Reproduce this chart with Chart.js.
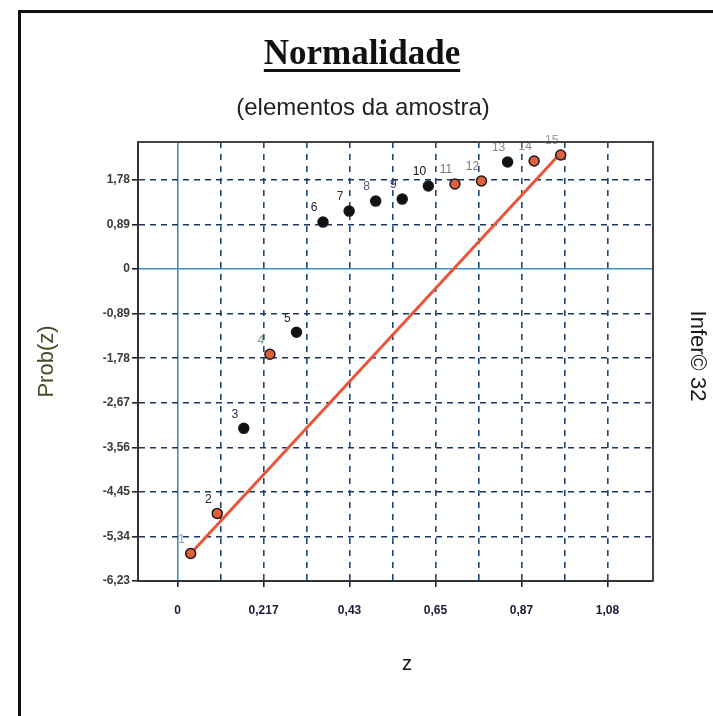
<!DOCTYPE html>
<html>
<head>
<meta charset="utf-8">
<script src="https://cdn.jsdelivr.net/npm/chart.js@4.4.1/dist/chart.umd.min.js"></script>
<style>
  html, body { margin: 0; padding: 0; background: #fff; }
  #wrap { position: relative; width: 713px; height: 716px; }
  #frame {
    position: absolute; left: 18px; top: 10px; right: -4px; bottom: -4px;
    border-left: 3px solid #111; border-top: 3px solid #111;
  }
  canvas { position: absolute; left: 0; top: 0; }
</style>
</head>
<body>
<div id="wrap">
  <div id="frame"></div>
  <canvas id="normal" width="713" height="716"></canvas>
</div>
<script>
// valores
const zValues = [0.033, 0.1, 0.167, 0.233, 0.3, 0.367, 0.433, 0.5, 0.567, 0.633, 0.7, 0.767, 0.833, 0.9, 0.967];
const probValues = [-5.68, -4.88, -3.18, -1.70, -1.26, 0.94, 1.16, 1.36, 1.40, 1.66, 1.70, 1.76, 2.14, 2.16, 2.28];
const pointLabels = ["1", "2", "3", "4", "5", "6", "7", "8", "9", "10", "11", "12", "13", "14", "15"];

// reta de referência
const lineZ = [0.033, 0.967];
const lineProb = [-5.68, 2.32];

// ticks dos eixos
const xTickValues = [0, 0.1085, 0.217, 0.3255, 0.434, 0.5425, 0.651, 0.7595, 0.868, 0.9765, 1.085];
const xTickLabels = ["0", "", "0,217", "", "0,43", "", "0,65", "", "0,87", "", "1,08"];
const yTickValues = [1.78, 0.89, 0, -0.89, -1.78, -2.67, -3.56, -4.45, -5.34, -6.23];
const yTickLabels = ["1,78", "0,89", "0", "-0,89", "-1,78", "-2,67", "-3,56", "-4,45", "-5,34", "-6,23"];

// cores dos pontos (laranja / preto)
const orange = "#e0603a";
const black = "#111111";
const pointColors = [orange, orange, black, orange, black, black, black, black, black, black, orange, orange, black, orange, orange];
const labelColors = ["#999999", "#222233", "#2a3550", "#8a9a80", "#222233", "#222233", "#4a2a30", "#4a5a70", "#2a3550", "#111111", "#777777", "#777777", "#888888", "#888888", "#999999"];

const FONT = "'Liberation Sans', Arial, sans-serif";

// moldura superior/direita da área do gráfico + textos extras
const decorPlugin = {
  id: "decor",
  afterDraw: (chart) => {
    const ctx = chart.ctx;
    const { left, right, top, bottom } = chart.chartArea;
    ctx.save();
    ctx.strokeStyle = "#444";
    ctx.lineWidth = 2;
    ctx.beginPath();
    ctx.moveTo(left, top);
    ctx.lineTo(right, top);
    ctx.lineTo(right, bottom);
    ctx.stroke();

    // título sublinhado
    ctx.fillStyle = "#111";
    ctx.textAlign = "center";
    ctx.textBaseline = "alphabetic";
    ctx.font = "bold 35px 'Liberation Serif', 'Times New Roman', serif";
    const title = "Normalidade";
    ctx.fillText(title, 362, 64);
    const w = ctx.measureText(title).width;
    ctx.fillRect(362 - w / 2, 69, w, 3);

    ctx.font = "24px " + FONT;
    ctx.fillStyle = "#222";
    ctx.textBaseline = "middle";
    ctx.fillText("(elementos da amostra)", 363, 108);

    // eixo x: rótulo "z" (um pouco à direita do centro, como no original)
    ctx.font = "20px " + FONT;
    ctx.fillStyle = "#111";
    ctx.fillText("z", 407, 664);

    // texto vertical à direita
    ctx.translate(697, 356);
    ctx.rotate(Math.PI / 2);
    ctx.font = "22px " + FONT;
    ctx.fillStyle = "#1a1a1a";
    ctx.fillText("Infer© 32", 0, 0);
    ctx.restore();
  },
  afterDatasetsDraw: (chart) => {
    const ctx = chart.ctx;
    const meta = chart.getDatasetMeta(0);
    ctx.save();
    ctx.font = "12px " + FONT;
    ctx.textAlign = "center";
    ctx.textBaseline = "middle";
    meta.data.forEach((pt, i) => {
      ctx.fillStyle = labelColors[i];
      ctx.fillText(pointLabels[i], pt.x - 9, pt.y - 14);
    });
    ctx.restore();
  },
};

const zeroBlue = "#3f8fc4";

new Chart(document.getElementById("normal"), {
  type: "scatter",
  data: {
    datasets: [
      {
        label: "amostra",
        data: zValues.map((z, i) => ({ x: z, y: probValues[i] })),
        backgroundColor: pointColors,
        borderColor: "#1a1a1a",
        borderWidth: 1.5,
        pointRadius: 5,
        order: 0,
      },
      {
        label: "reta",
        type: "line",
        data: lineZ.map((z, i) => ({ x: z, y: lineProb[i] })),
        borderColor: "#e8553a",
        borderWidth: 3,
        pointRadius: 0,
        showLine: true,
        fill: false,
        order: 1,
      },
    ],
  },
  options: {
    responsive: false,
    animation: false,
    layout: {
      padding: { left: 30, top: 142, right: 60, bottom: 35 },
    },
    plugins: {
      legend: { display: false },
      tooltip: { enabled: false },
      title: { display: false },
    },
    scales: {
      x: {
        type: "linear",
        min: -0.1,
        max: 1.2,
        afterBuildTicks: (scale) => {
          scale.ticks = xTickValues.map((v) => ({ value: v }));
        },
        afterFit: (scale) => {
          scale.height = 100;
        },
        ticks: {
          autoSkip: false,
          maxRotation: 0,
          padding: 16,
          color: "#1a1a3a",
          font: { family: FONT, size: 12, weight: "bold" },
          callback: (value, index) => xTickLabels[index],
        },
        grid: {
          color: (ctx) => (ctx.tick && ctx.tick.value === 0 ? zeroBlue : "#1f4a78"),
          lineWidth: 1.6,
          tickLength: 6,
          tickColor: (ctx) => (ctx.index % 2 === 0 ? "#222" : "rgba(0,0,0,0)"),
        },
        border: {
          color: "#333",
          width: 2,
          dash: (ctx) => (ctx.tick && ctx.tick.value === 0 ? [] : [6, 6]),
        },
        title: { display: false },
      },
      y: {
        type: "linear",
        min: -6.23,
        max: 2.54,
        afterBuildTicks: (scale) => {
          scale.ticks = yTickValues.map((v) => ({ value: v }));
        },
        afterFit: (scale) => {
          scale.width = 108;
        },
        ticks: {
          autoSkip: false,
          padding: 2,
          color: "#3a3a3a",
          font: { family: FONT, size: 12, weight: "bold" },
          callback: (value, index) => yTickLabels[index],
        },
        grid: {
          color: (ctx) => (ctx.tick && ctx.tick.value === 0 ? zeroBlue : "#1b355e"),
          lineWidth: 1.6,
          tickLength: 6,
          tickColor: "#222",
        },
        border: {
          color: "#333",
          width: 2,
          dash: (ctx) => (ctx.tick && ctx.tick.value === 0 ? [] : [6, 5]),
        },
        title: {
          display: true,
          text: "Prob(z)",
          color: "#4a4a2a",
          font: { family: FONT, size: 22 },
        },
      },
    },
  },
  plugins: [decorPlugin],
});
</script>
</body>
</html>
